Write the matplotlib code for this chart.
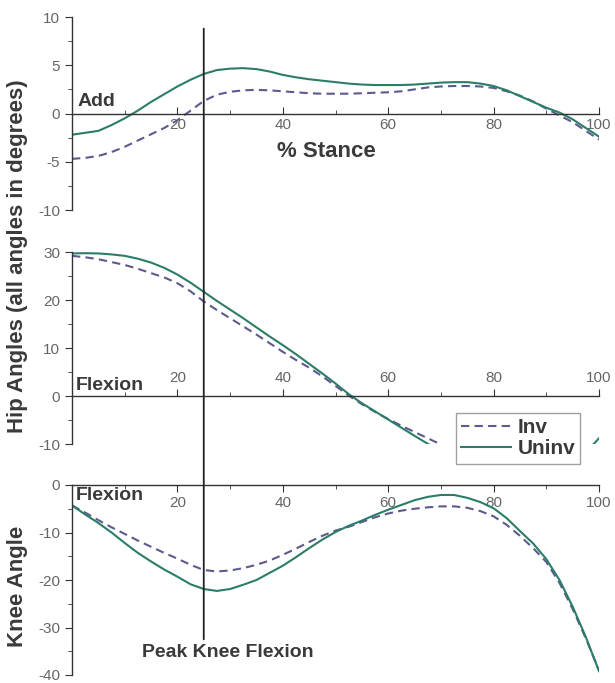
'''
hip and knee angles over stance, involved vs uninvolved limb
'''
import numpy as np
import matplotlib.pyplot as plt
from matplotlib.patches import ConnectionPatch

plt.rcParams['font.family'] = ['Liberation Sans', 'DejaVu Sans']
plt.rcParams['axes.unicode_minus'] = False

# % stance sample points
stance = [0, 2.5, 5, 7.5, 10, 12.5, 15, 17.5, 20, 22.5, 25, 27.5, 30, 32.5, 35, 37.5,
          40, 42.5, 45, 47.5, 50, 52.5, 55, 57.5, 60, 62.5, 65, 67.5, 70, 72.5, 75,
          77.5, 80, 82.5, 85, 87.5, 90, 92.5, 95, 97.5, 100]

# hip adduction (deg)
hip_add_inv = [-4.7, -4.6, -4.4, -4.0, -3.45, -2.8, -2.15, -1.5, -0.7, 0.3, 1.3,
               1.95, 2.25, 2.4, 2.45, 2.4, 2.3, 2.2, 2.1, 2.05, 2.05, 2.05, 2.1, 2.15,
               2.2, 2.3, 2.5, 2.7, 2.8, 2.85, 2.85, 2.8, 2.65, 2.3, 1.85, 1.25, 0.5,
               -0.2, -0.9, -1.8, -2.7]
hip_add_uninv = [-2.2, -2.0, -1.8, -1.2, -0.5, 0.3, 1.2, 2.0, 2.8, 3.5, 4.1,
                 4.5, 4.65, 4.7, 4.6, 4.35, 4.0, 3.75, 3.55, 3.4, 3.25, 3.1, 3.0, 2.95,
                 2.95, 2.95, 3.0, 3.1, 3.2, 3.25, 3.25, 3.1, 2.85, 2.4, 1.8, 1.2, 0.6,
                 0.1, -0.6, -1.5, -2.4]

# hip flexion (deg)
hip_flex_inv = [29.2, 28.9, 28.5, 27.9, 27.3, 26.5, 25.6, 24.7, 23.5, 21.8, 19.7,
                17.9, 16.2, 14.5, 12.8, 11.0, 9.2, 7.5, 5.9, 4.1, 2.1, 0.1, -1.7, -3.3,
                -4.8, -6.2, -7.5, -8.8, -10.1, -11.3, -12.4, -13.4, -14.3, -15.0, -15.6,
                -16.0, -16.2, -16.1, -15.6, -14.5, -12.5]
hip_flex_uninv = [29.7, 29.75, 29.7, 29.5, 29.2, 28.6, 27.8, 26.7, 25.3, 23.6, 21.7,
                  19.8, 18.0, 16.2, 14.3, 12.4, 10.6, 8.7, 6.7, 4.7, 2.6, 0.4, -1.5, -3.2,
                  -4.9, -6.6, -8.3, -9.95, -11.5, -12.9, -14.0, -15.0, -15.7, -16.1, -16.3,
                  -16.2, -15.8, -15.0, -13.8, -11.8, -8.8]

# knee flexion (deg)
knee_inv = [-4.3, -5.8, -7.4, -8.9, -10.3, -11.7, -13.0, -14.3, -15.5, -16.8, -17.9,
            -18.2, -18.0, -17.5, -16.8, -15.9, -14.7, -13.4, -12.0, -10.7, -9.6, -8.8,
            -7.8, -6.8, -6.0, -5.4, -5.0, -4.7, -4.5, -4.5, -4.8, -5.5, -6.6, -8.4,
            -10.7, -13.3, -16.2, -20.6, -26.1, -32.3, -39.0]
knee_uninv = [-4.3, -6.2, -8.0, -10.0, -12.2, -14.3, -16.1, -17.8, -19.3, -20.9, -21.9,
              -22.3, -21.9, -21.0, -20.0, -18.5, -17.0, -15.2, -13.3, -11.5, -9.9, -8.6,
              -7.5, -6.3, -5.2, -4.2, -3.2, -2.5, -2.1, -2.1, -2.7, -3.6, -4.9, -7.0,
              -9.7, -12.3, -15.6, -20.0, -25.6, -32.0, -39.2]

PEAK_KNEE_FLEXION = 25

INV_COLOR = "#5c5a8e"
UNINV_COLOR = "#2b7d68"
TICK_COLOR = "#666666"
TEXT_COLOR = "#3a3a3a"

fig = plt.figure(figsize=(6.15, 6.83), dpi=100)
W, H = 615, 683


def px_axes(left, top, right, bottom):
    return fig.add_axes([left / W, 1 - bottom / H, (right - left) / W, (bottom - top) / H])


ax1 = px_axes(72, 17, 599, 210)
ax2 = px_axes(72, 252, 599, 444)
ax3 = px_axes(72, 485, 599, 675)


def style_axes(ax, ylim, major, minor, labels_above=False, xdir='in'):
    ax.set_xlim(0, 100)
    ax.set_ylim(*ylim)
    ax.spines['right'].set_visible(False)
    if labels_above:
        ax.spines['bottom'].set_visible(False)
        ax.spines['top'].set_position(('data', 0))
        ax.xaxis.tick_top()
    else:
        ax.spines['top'].set_visible(False)
        ax.spines['bottom'].set_position(('data', 0))
    for s in ax.spines.values():
        s.set_color("#333333")
        s.set_linewidth(1.0)
    ax.set_xticks([20, 40, 60, 80, 100])
    ax.set_xticks([10, 30, 50, 70, 90], minor=True)
    ax.set_yticks(np.arange(ylim[0], ylim[1] + 0.01, major))
    ax.set_yticks(np.arange(ylim[0], ylim[1] + 0.01, minor), minor=True)
    ax.tick_params(axis='x', which='both', direction=xdir, colors="#333333",
                   labelcolor=TICK_COLOR, labelsize=11, pad=3)
    ax.tick_params(axis='x', which='major', length=5)
    ax.tick_params(axis='x', which='minor', length=3)
    ax.tick_params(axis='y', which='both', direction='out', colors="#333333",
                   labelcolor=TICK_COLOR, labelsize=11)
    ax.tick_params(axis='y', which='major', length=5)
    ax.tick_params(axis='y', which='minor', length=3)
    ax.patch.set_visible(False)


def plot_pair(ax, inv, uninv):
    ax.plot(stance, inv, color=INV_COLOR, lw=1.5, ls=(0, (4, 2.5)), label="Inv")
    ax.plot(stance, uninv, color=UNINV_COLOR, lw=1.5, label="Uninv")


plot_pair(ax1, hip_add_inv, hip_add_uninv)
plot_pair(ax2, hip_flex_inv, hip_flex_uninv)
plot_pair(ax3, knee_inv, knee_uninv)

style_axes(ax1, (-10, 10), 5, 2.5, xdir='in')
style_axes(ax2, (-10, 30), 10, 5, labels_above=True, xdir='out')
style_axes(ax3, (-40, 0), 10, 5, xdir='out')

bold = dict(fontweight='bold', color=TEXT_COLOR)
ax1.text(1, 0.4, "Add", fontsize=14, va='bottom', ha='left', **bold)
ax1.text(38.9, -3.9, "% Stance", fontsize=16, va='center', ha='left', **bold)
ax2.text(0.8, 0.5, "Flexion", fontsize=14, va='bottom', ha='left', **bold)
ax3.text(0.8, -0.5, "Flexion", fontsize=14, va='top', ha='left', **bold)
ax3.text(29.5, -35.3, "Peak Knee Flexion", fontsize=14, va='center', ha='center', **bold)

fig.text(18 / W, 1 - 256 / H, "Hip Angles (all angles in degrees)", rotation=90,
         fontsize=16, va='center', ha='center', **bold)
fig.text(18 / W, 1 - 586 / H, "Knee Angle", rotation=90,
         fontsize=16, va='center', ha='center', **bold)

# peak knee flexion marker running through all three panels
con = ConnectionPatch(xyA=(PEAK_KNEE_FLEXION, 8.8), coordsA=ax1.transData,
                      xyB=(PEAK_KNEE_FLEXION, -32.5), coordsB=ax3.transData,
                      color="#222222", lw=1.3)
fig.add_artist(con)

handles, labels = ax2.get_legend_handles_labels()
leg = fig.legend(handles, labels, loc='upper left', bbox_to_anchor=(456 / W, 1 - 413 / H),
                 frameon=True, fancybox=False, fontsize=15, handlelength=2.4,
                 borderpad=0.25, labelspacing=0.1, handletextpad=0.3, borderaxespad=0)
leg.get_frame().set_edgecolor("#888888")
leg.get_frame().set_linewidth(1.0)
for t in leg.get_texts():
    t.set_fontweight('bold')
    t.set_color(TEXT_COLOR)

fig.savefig("out.png", dpi=100)
